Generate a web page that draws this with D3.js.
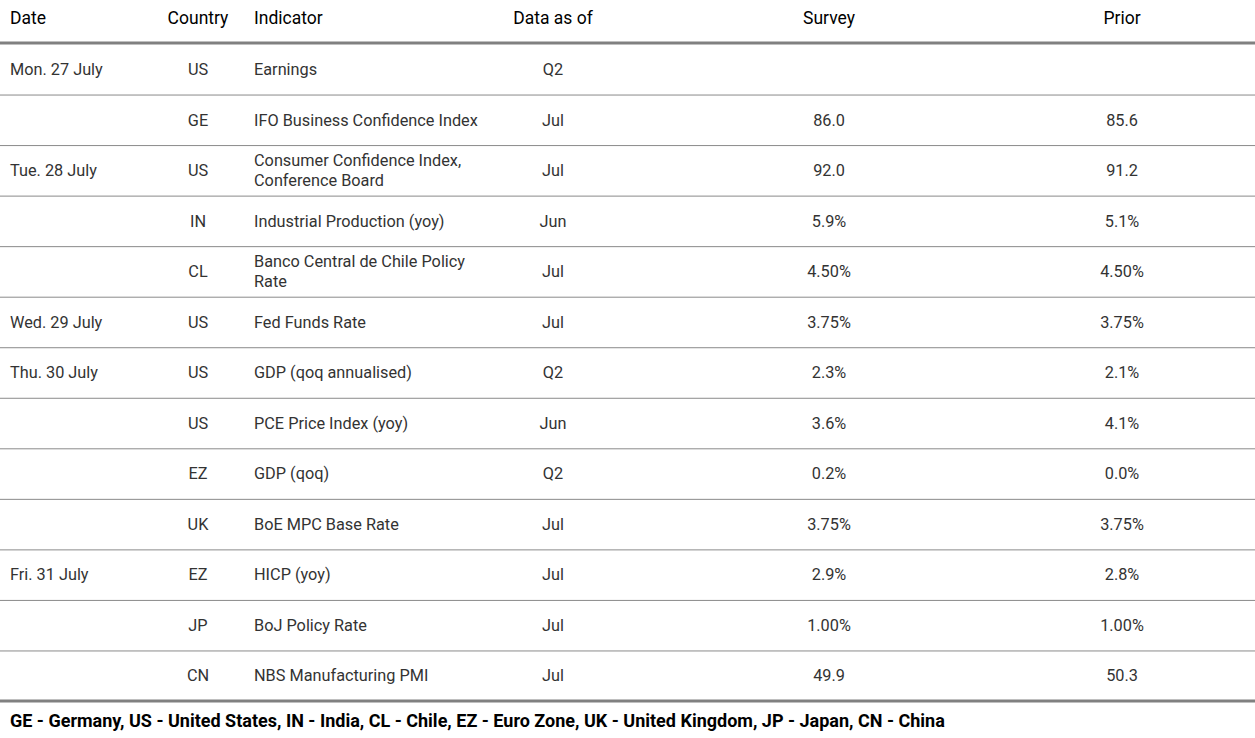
<!DOCTYPE html>
<html>
<head>
<meta charset="utf-8">
<script src="https://cdn.jsdelivr.net/npm/d3@7"></script>
<style>
  body { margin: 0; background: #fff; }
  svg { display: block; font-family: Roboto, "Liberation Sans", sans-serif; }
</style>
</head>
<body>
<div id="chart"></div>
<script>
// table content
const headers = ['Date', 'Country', 'Indicator', 'Data as of', 'Survey', 'Prior'];
const dates = ['Mon. 27 July', '', 'Tue. 28 July', '', '', 'Wed. 29 July', 'Thu. 30 July', '', '', '', 'Fri. 31 July', '', ''];
const countries = ['US', 'GE', 'US', 'IN', 'CL', 'US', 'US', 'US', 'EZ', 'UK', 'EZ', 'JP', 'CN'];
const indicators = [
    'Earnings',
    'IFO Business Confidence Index',
    'Consumer Confidence Index,\nConference Board',
    'Industrial Production (yoy)',
    'Banco Central de Chile Policy\nRate',
    'Fed Funds Rate',
    'GDP (qoq annualised)',
    'PCE Price Index (yoy)',
    'GDP (qoq)',
    'BoE MPC Base Rate',
    'HICP (yoy)',
    'BoJ Policy Rate',
    'NBS Manufacturing PMI'
];
const dataAsOf = ['Q2', 'Jul', 'Jul', 'Jun', 'Jul', 'Jul', 'Q2', 'Jun', 'Q2', 'Jul', 'Jul', 'Jul', 'Jul'];
const survey = ['', '86.0', '92.0', '5.9%', '4.50%', '3.75%', '2.3%', '3.6%', '0.2%', '3.75%', '2.9%', '1.00%', '49.9'];
const prior = ['', '85.6', '91.2', '5.1%', '4.50%', '3.75%', '2.1%', '4.1%', '0.0%', '3.75%', '2.8%', '1.00%', '50.3'];
const footnote = 'GE - Germany, US - United States, IN - India, CL - Chile, EZ - Euro Zone, UK - United Kingdom, JP - Japan, CN - China';

function renderTable(containerId) {
    const width = 1255, height = 738;
    const top = 44, bottom = 701;

    const rows = countries.map((c, i) => ({
        date: dates[i], country: c, indicator: indicators[i],
        asOf: dataAsOf[i], survey: survey[i], prior: prior[i]
    }));

    const svg = d3.select(`#${containerId}`)
        .append('svg')
        .attr('width', width)
        .attr('height', height);

    const y = d3.scaleBand()
        .domain(d3.range(rows.length))
        .range([top, bottom]);

    // column layout: x position and anchor
    const cols = [
        { key: 'date', x: 10, anchor: 'start' },
        { key: 'country', x: 198, anchor: 'middle' },
        { key: 'indicator', x: 254, anchor: 'start' },
        { key: 'asOf', x: 553, anchor: 'middle' },
        { key: 'survey', x: 829, anchor: 'middle' },
        { key: 'prior', x: 1122, anchor: 'middle' }
    ];

    // header
    svg.selectAll('.head')
        .data(headers)
        .enter()
        .append('text')
        .attr('class', 'head')
        .attr('x', (d, i) => cols[i].x)
        .attr('y', 18)
        .attr('dy', '0.35em')
        .attr('text-anchor', (d, i) => cols[i].anchor)
        .style('font-size', '17.5px')
        .attr('fill', '#000')
        .text(d => d);

    // row separators
    svg.selectAll('.sep')
        .data(d3.range(1, rows.length))
        .enter()
        .append('line')
        .attr('x1', 0)
        .attr('x2', width)
        .attr('y1', d => y(d) + 0.5)
        .attr('y2', d => y(d) + 0.5)
        .attr('stroke', '#8a8a8a')
        .attr('stroke-width', 1);

    // thick rules
    [top - 1, bottom].forEach(v => {
        svg.append('line')
            .attr('x1', 0)
            .attr('x2', width)
            .attr('y1', v)
            .attr('y2', v)
            .attr('stroke', '#808080')
            .attr('stroke-width', 3);
    });

    // cells
    const g = svg.selectAll('.row')
        .data(rows)
        .enter()
        .append('g')
        .attr('transform', (d, i) => `translate(0,${y(i) + y.bandwidth() / 2})`);

    cols.forEach(col => {
        g.append('text')
            .attr('x', col.x)
            .attr('text-anchor', col.anchor)
            .style('font-size', '16.3px')
            .attr('fill', '#333')
            .each(function (d) {
                const lines = d[col.key].split('\n');
                const t = d3.select(this);
                lines.forEach((ln, j) => {
                    t.append('tspan')
                        .attr('x', col.x)
                        .attr('y', (j - (lines.length - 1) / 2) * 20)
                        .attr('dy', '0.35em')
                        .text(ln);
                });
            });
    });

    // footnote
    svg.append('text')
        .attr('x', 10)
        .attr('y', 721)
        .attr('dy', '0.35em')
        .style('font-size', '18px')
        .style('font-weight', 'bold')
        .attr('fill', '#000')
        .text(footnote);
}

renderTable('chart');
</script>
</body>
</html>
